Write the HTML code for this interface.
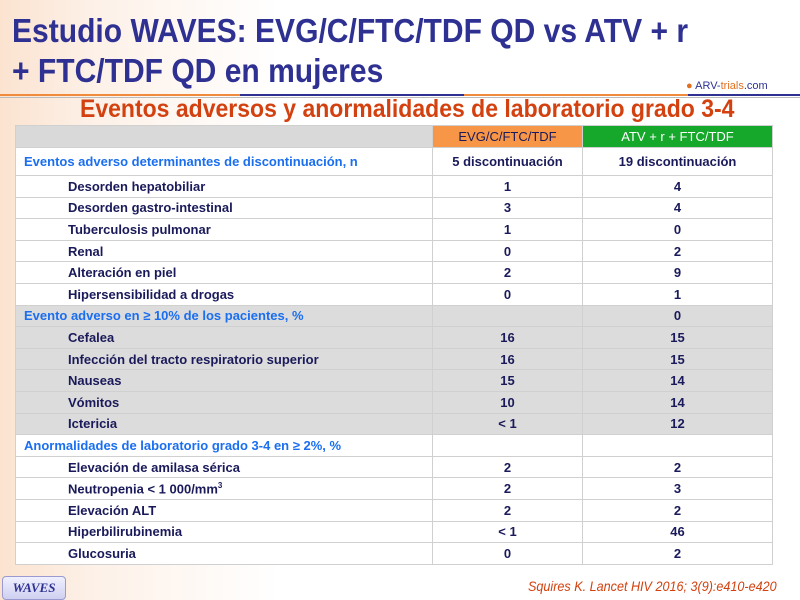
<!DOCTYPE html>
<html><head><meta charset="utf-8"><style>
body{margin:0;width:800px;height:600px;overflow:hidden;position:relative;font-family:"Liberation Sans",sans-serif;
background:linear-gradient(90deg,#fbe3d0 0%,#fdf1e8 12%,#fff 35%,#fff 100%);}
.t{position:absolute;left:12px;font-weight:bold;color:#2e3192;font-size:33px;white-space:nowrap;transform:scaleX(0.91);transform-origin:0 0;}
.sub{position:absolute;left:80px;top:95px;font-weight:bold;color:#d2410f;font-size:25px;white-space:nowrap;transform:scaleX(0.92);transform-origin:0 0;}
table{position:absolute;left:15px;top:125px;border-collapse:collapse;font-weight:bold;font-size:13px;table-layout:fixed;width:757px;}
td{border:1px solid #d0d0d0;height:20.6px;padding:0;color:#1a1a5a;white-space:nowrap;overflow:hidden}
td.a,td.b{text-align:center}
.ind{padding-left:52px}
.sec{color:#1a6ef0;padding-left:8px}
.g td{background:#dcdcdc}
</style></head><body>
<div class="t" style="top:12px">Estudio WAVES: EVG/C/FTC/TDF QD vs ATV + r</div>
<div class="t" style="top:52px">+ FTC/TDF QD en mujeres</div>
<div style="position:absolute;left:0;top:94px;width:800px;height:2px;background:linear-gradient(90deg,#f08a3c 0 30%,#2e3192 30% 58%,#f08a3c 58% 86%,#2e3192 86%)"></div>
<div style="position:absolute;left:0;top:97px;width:800px;height:1px;background:#bbb"></div>
<div style="position:absolute;left:686px;top:80px;font-size:11px;color:#2e3192"><span style="color:#e07020">●</span> ARV-<span style="color:#e07020">trials</span>.com</div>
<div class="sub">Eventos adversos y anormalidades de laboratorio grado 3-4</div>
<table>
<colgroup><col style="width:417px"><col style="width:150px"><col style="width:190px"></colgroup>
<tr style="height:22px"><td style="background:#d9d9d9"></td><td class="a" style="background:#f79646;font-weight:normal">EVG/C/FTC/TDF</td><td class="b" style="background:#16a82a;color:#fff;font-weight:normal">ATV + r + FTC/TDF</td></tr>
<tr style="height:28px;background:#fff"><td class="sec">Eventos adverso determinantes de discontinuación, n</td><td class="a">5 discontinuación</td><td class="b">19 discontinuación</td></tr>
<tr style="background:#fff"><td class="ind">Desorden hepatobiliar</td><td class="a">1</td><td class="b">4</td></tr>
<tr style="background:#fff"><td class="ind">Desorden gastro-intestinal</td><td class="a">3</td><td class="b">4</td></tr>
<tr style="background:#fff"><td class="ind">Tuberculosis pulmonar</td><td class="a">1</td><td class="b">0</td></tr>
<tr style="background:#fff"><td class="ind">Renal</td><td class="a">0</td><td class="b">2</td></tr>
<tr style="background:#fff"><td class="ind">Alteración en piel</td><td class="a">2</td><td class="b">9</td></tr>
<tr style="background:#fff"><td class="ind">Hipersensibilidad a drogas</td><td class="a">0</td><td class="b">1</td></tr>
<tr class="g"><td class="sec">Evento adverso en ≥ 10% de los pacientes, %</td><td class="a"></td><td class="b">0</td></tr>
<tr class="g"><td class="ind">Cefalea</td><td class="a">16</td><td class="b">15</td></tr>
<tr class="g"><td class="ind">Infección del tracto respiratorio superior</td><td class="a">16</td><td class="b">15</td></tr>
<tr class="g"><td class="ind">Nauseas</td><td class="a">15</td><td class="b">14</td></tr>
<tr class="g"><td class="ind">Vómitos</td><td class="a">10</td><td class="b">14</td></tr>
<tr class="g"><td class="ind">Ictericia</td><td class="a">&lt; 1</td><td class="b">12</td></tr>
<tr style="background:#fff"><td class="sec">Anormalidades de laboratorio grado 3-4 en ≥ 2%, %</td><td class="a"></td><td class="b"></td></tr>
<tr style="background:#fff"><td class="ind">Elevación de amilasa sérica</td><td class="a">2</td><td class="b">2</td></tr>
<tr style="background:#fff"><td class="ind">Neutropenia &lt; 1 000/mm<sup style="font-size:8px">3</sup></td><td class="a">2</td><td class="b">3</td></tr>
<tr style="background:#fff"><td class="ind">Elevación ALT</td><td class="a">2</td><td class="b">2</td></tr>
<tr style="background:#fff"><td class="ind">Hiperbilirubinemia</td><td class="a">&lt; 1</td><td class="b">46</td></tr>
<tr style="background:#fff"><td class="ind">Glucosuria</td><td class="a">0</td><td class="b">2</td></tr>
</table>
<div style="position:absolute;left:2px;top:576px;width:62px;height:22px;background:linear-gradient(#f0f0ff,#cfd0f0);border:1px solid #9a9ad0;border-radius:4px;font-family:'Liberation Serif',serif;font-style:italic;font-weight:bold;font-size:13px;color:#2e3192;text-align:center;line-height:22px">WAVES</div>
<div style="position:absolute;left:528px;top:578px;font-style:italic;font-size:14px;color:#d2410f;white-space:nowrap;transform:scaleX(0.9);transform-origin:0 0">Squires K. Lancet HIV 2016; 3(9):e410-e420</div>
</body></html>
